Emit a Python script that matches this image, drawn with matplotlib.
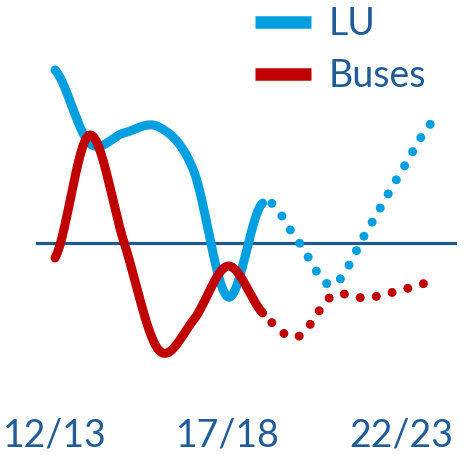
import numpy as np
import matplotlib
matplotlib.use("Agg")
import matplotlib.pyplot as plt

plt.rcParams['font.family'] = ['Lato', 'DejaVu Sans']

# 12/13 .. 23/24, actual up to 18/19 then forecast
years = ['12/13', '13/14', '14/15', '15/16', '16/17', '17/18',
         '18/19', '19/20', '20/21', '21/22', '22/23', '23/24']
tick_labels = ['12/13', '17/18', '22/23']
last_actual = 6

lu = [5.77, 3.33, 3.67, 3.87, 2.43, -1.80, 1.33, 0.10, -1.40, 0.37, 2.37, 4.13]
buses = [-0.50, 3.60, 0.00, -3.57, -2.57, -0.77, -2.33, -3.13, -1.77, -1.83, -1.57, -1.27]

LU_COL = '#00A0E0'
BUS_COL = '#C00000'
TXT_COL = '#1F5C99'


def smooth(y, n=30):
    # catmull-rom through the points, like a smoothed line in a spreadsheet
    y = np.asarray(y, float)
    x = np.arange(len(y), dtype=float)
    p = np.concatenate([[y[0]], y, [y[-1]]])
    xs, ys = [], []
    for i in range(len(y) - 1):
        t = np.linspace(0, 1, n, endpoint=False)
        p0, p1, p2, p3 = p[i], p[i + 1], p[i + 2], p[i + 3]
        seg = 0.5 * ((2 * p1) + (-p0 + p2) * t + (2 * p0 - 5 * p1 + 4 * p2 - p3) * t ** 2
                     + (-p0 + 3 * p1 - 3 * p2 + p3) * t ** 3)
        xs.append(x[i] + t)
        ys.append(seg)
    xs.append([x[-1]])
    ys.append([y[-1]])
    return np.concatenate(xs), np.concatenate(ys)


fig = plt.figure(figsize=(4.74, 4.62), dpi=100)
ax = fig.add_axes([0, 0, 1, 1])
ax.set_xlim(-1.59, 12.11)
ax.set_ylim(-7.3, 8.1)
ax.axis('off')

ax.axhline(0, xmin=37 / 474, xmax=455 / 474, color='#1F5A8E', lw=2.3, zorder=1)

dots = (0, (0.001, 1.8))
for vals, col, name in [(lu, LU_COL, 'LU'), (buses, BUS_COL, 'Buses')]:
    sx, sy = smooth(vals)
    cut = sx <= last_actual + 1e-9
    ax.plot(sx[cut], sy[cut], color=col, lw=6.5, solid_capstyle='round',
            solid_joinstyle='round', label=name, zorder=3)
    fc = sx >= last_actual + 0.25
    ax.plot(sx[fc], sy[fc], color=col, lw=6.5, linestyle=dots,
            dash_capstyle='round', zorder=2)

for lab in tick_labels:
    ax.text(years.index(lab), 1 - 436 / 462, lab, transform=ax.get_xaxis_transform(),
            ha='center', va='center', fontsize=27, color=TXT_COL)

leg = ax.legend(loc='upper left', bbox_to_anchor=(255 / 474, 1 - 6 / 462), frameon=False,
                fontsize=27, handlelength=1.5, handletextpad=0.45, labelspacing=0.42,
                borderpad=0, borderaxespad=0)
for t in leg.get_texts():
    t.set_color(TXT_COL)
for h in leg.get_lines():
    h.set_linewidth(9)
    h.set_solid_capstyle('butt')

fig.savefig('out.png', dpi=100)
